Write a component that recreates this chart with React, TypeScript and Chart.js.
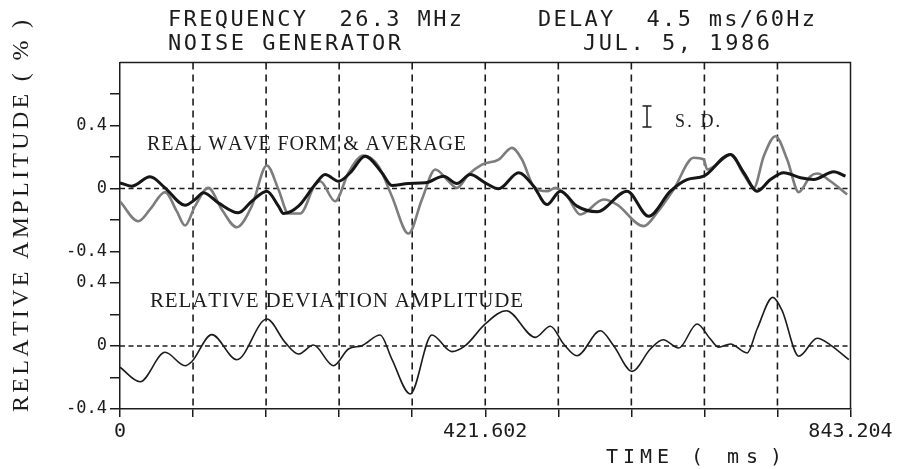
import { useEffect, useRef } from 'react';
import { Chart, registerables } from 'chart.js';

Chart.register(...registerables);

// ---- time axis ----
const TIME_SPAN_MS = 843.204;
const X_TICK_VALUES = [0, 84.3204, 168.6408, 252.9612, 337.2816, 421.602, 505.9224, 590.2428, 674.5632, 758.8836, 843.204];
const X_TICK_LABELS = ['0', '', '', '', '', '421.602', '', '', '', '', '843.204'];

// ---- amplitude ticks for each panel (%) ----
const UPPER_TICKS = [-0.4, -0.2, 0, 0.2, 0.4, 0.6];
const LOWER_TICKS = [-0.4, -0.2, 0, 0.2, 0.4];
const LABELED_TICKS = [-0.4, 0, 0.4];

// ---- average wave form (ms, %) ----
const AVG_T = [0, 13.5, 34.7, 52.0, 75.1, 86.6, 96.2, 113.5, 136.6, 152.1, 169.5, 182.9, 188.6, 206.0, 225.2, 236.8, 252.2, 265.7, 283.0, 302.3, 313.8, 333.0, 352.3, 373.4, 388.9, 404.3, 421.6, 437.0, 460.1, 477.4, 492.9, 508.2, 527.5, 550.6, 585.3, 610.2, 635.3, 654.6, 673.8, 704.6, 720.0, 735.5, 750.8, 766.2, 785.5, 800.8, 823.9, 837.4];
const AVG_V = [0.036, 0.015, 0.074, 0.004, -0.106, -0.070, -0.027, -0.091, -0.154, -0.081, -0.017, -0.112, -0.159, -0.112, 0.025, 0.089, 0.046, 0.100, 0.205, 0.100, 0.019, 0.032, 0.036, 0.078, 0.032, 0.089, 0.036, -0.002, 0.100, 0.015, -0.102, -0.017, -0.112, -0.148, -0.017, -0.176, -0.017, 0.057, 0.078, 0.216, 0.100, -0.017, 0.057, 0.100, 0.068, 0.057, 0.106, 0.078];

// ---- real wave form (ms, %) ----
const REAL_T = [0, 21.1, 34.7, 52.0, 65.5, 75.1, 86.6, 102.0, 117.5, 134.8, 152.1, 169.5, 182.9, 194.4, 207.9, 225.2, 231.0, 248.3, 263.7, 281.0, 298.4, 313.8, 333.0, 348.5, 363.9, 379.2, 388.9, 402.3, 417.8, 437.0, 452.4, 464.0, 477.4, 492.9, 502.5, 516.0, 531.3, 558.3, 573.7, 604.5, 619.9, 639.1, 662.2, 673.8, 677.7, 693.1, 704.6, 720.0, 731.5, 743.1, 756.6, 770.1, 783.5, 797.0, 804.8, 820.1, 839.4];
const REAL_V = [-0.081, -0.208, -0.133, -0.023, -0.144, -0.235, -0.112, 0.004, -0.133, -0.246, -0.112, 0.146, -0.006, -0.159, -0.159, 0.025, 0.046, -0.081, 0.100, 0.210, 0.142, -0.049, -0.286, -0.070, 0.121, 0.046, 0.004, 0.089, 0.152, 0.184, 0.258, 0.184, 0.015, -0.017, 0.004, -0.049, -0.165, -0.070, -0.102, -0.239, -0.154, -0.006, 0.195, 0.184, 0.121, 0.173, 0.216, 0.089, 0.004, 0.205, 0.332, 0.184, -0.023, 0.078, 0.095, 0.046, -0.038];

// ---- relative deviation amplitude (ms, %) ----
const DEV_T = [0, 23.1, 52.0, 75.1, 82.8, 105.9, 134.8, 169.5, 190.6, 206.0, 223.3, 246.4, 263.7, 279.2, 300.3, 313.8, 335.0, 360.0, 383.1, 398.5, 421.6, 445.9, 479.4, 496.7, 512.1, 527.5, 554.4, 569.8, 591.1, 612.2, 626.9, 644.9, 666.1, 681.5, 691.1, 704.6, 723.9, 735.4, 753.5, 764.3, 783.5, 804.8, 820.1, 841.3];
const DEV_V = [-0.135, -0.227, -0.040, -0.125, -0.100, 0.072, -0.087, 0.171, 0.023, -0.051, 0.006, -0.125, -0.019, 0.002, 0.070, -0.083, -0.305, 0.070, -0.036, 0.002, 0.140, 0.224, 0.055, 0.125, 0.013, -0.062, 0.097, 0.002, -0.161, -0.019, 0.040, -0.013, 0.140, 0.044, -0.008, 0.013, -0.044, 0.108, 0.309, 0.224, -0.065, 0.049, 0.006, -0.087];

// Both panels share one vertical axis; each panel's zero sits at its own offset.
const LOWER_ZERO = 0.4;
const UPPER_ZERO = 1.4;
const AXIS_TOP = 2.2;

const INK = '#1c1c1c';
const MONO = '"DejaVu Sans Mono", monospace';
const SERIF = '"Liberation Serif", "DejaVu Serif", serif';

const Y_TICKS = [
  ...LOWER_TICKS.map((v) => ({ value: +(v + LOWER_ZERO).toFixed(3), label: LABELED_TICKS.includes(v) ? String(v) : '' })),
  ...UPPER_TICKS.map((v) => ({ value: +(v + UPPER_ZERO).toFixed(3), label: LABELED_TICKS.includes(v) ? String(v) : '' })),
];

const toPoints = (t: number[], v: number[], zero: number) => t.map((x, i) => ({ x, y: v[i] + zero }));

// Draws text so that its characters are spread evenly between x0 and x1.
function drawSpread(ctx: CanvasRenderingContext2D, text: string, x0: number, x1: number, baseline: number) {
  const chars = [...text];
  const widths = chars.map((c) => ctx.measureText(c).width);
  const total = widths.reduce((a, b) => a + b, 0);
  const gap = chars.length > 1 ? (x1 - x0 - total) / (chars.length - 1) : 0;
  let x = x0;
  ctx.textAlign = 'left';
  ctx.textBaseline = 'alphabetic';
  chars.forEach((c, i) => {
    ctx.fillText(c, x, baseline);
    x += widths[i] + gap;
  });
}

const decorPlugin = {
  id: 'panelDecor',
  beforeDatasetsDraw(chart: any) {
    const { ctx, chartArea: a, scales } = chart;
    ctx.save();
    ctx.strokeStyle = INK;
    ctx.lineWidth = 1.6;
    ctx.setLineDash([7, 5]);
    X_TICK_VALUES.slice(1, -1).forEach((v) => {
      const px = scales.x.getPixelForValue(v);
      ctx.beginPath();
      ctx.moveTo(px, a.top);
      ctx.lineTo(px, a.bottom);
      ctx.stroke();
    });
    ctx.lineWidth = 1.4;
    ctx.setLineDash([5, 3.5]);
    [UPPER_ZERO, LOWER_ZERO].forEach((u) => {
      const py = scales.y.getPixelForValue(u);
      ctx.beginPath();
      ctx.moveTo(a.left, py);
      ctx.lineTo(a.right, py);
      ctx.stroke();
    });
    ctx.restore();
  },
  afterDatasetsDraw(chart: any) {
    const { ctx, chartArea: a } = chart;
    ctx.save();
    ctx.strokeStyle = INK;
    ctx.lineWidth = 1.5;
    ctx.beginPath();
    ctx.moveTo(a.left, a.top);
    ctx.lineTo(a.right, a.top);
    ctx.lineTo(a.right, a.bottom);
    ctx.stroke();
    ctx.restore();
  },
  afterDraw(chart: any) {
    const { ctx } = chart;
    ctx.save();
    ctx.fillStyle = INK;

    // header
    ctx.font = `22px ${MONO}`;
    drawSpread(ctx, 'FREQUENCY  26.3 MHz', 168, 462, 26);
    drawSpread(ctx, 'DELAY  4.5 ms/60Hz', 538, 815, 26);
    drawSpread(ctx, 'NOISE GENERATOR', 168, 401, 50);
    drawSpread(ctx, 'JUL. 5, 1986', 583, 770, 50);

    // axis title (time)
    ctx.font = `20px ${MONO}`;
    drawSpread(ctx, 'TIME', 606, 669, 463);
    ctx.textAlign = 'center';
    ctx.fillText('(', 697, 463);
    drawSpread(ctx, 'ms', 727, 758, 463);
    ctx.textAlign = 'center';
    ctx.fillText(')', 776, 463);

    // axis title (amplitude), rotated
    ctx.save();
    ctx.translate(20, 216);
    ctx.rotate(-Math.PI / 2);
    ctx.font = `24px ${SERIF}`;
    drawSpread(ctx, 'RELATIVE AMPLITUDE ( % )', -196, 196, 8);
    ctx.restore();

    // panel captions
    ctx.font = `20px ${SERIF}`;
    drawSpread(ctx, 'REAL WAVE FORM & AVERAGE', 147, 466, 150);
    ctx.font = `21px ${SERIF}`;
    drawSpread(ctx, 'RELATIVE DEVIATION AMPLITUDE', 150, 523, 307);
    ctx.font = `18px ${SERIF}`;
    drawSpread(ctx, 'S. D.', 675, 720, 127);

    // S.D. bar symbol
    ctx.strokeStyle = INK;
    ctx.lineWidth = 1.5;
    ctx.beginPath();
    ctx.moveTo(647, 106);
    ctx.lineTo(647, 127);
    ctx.moveTo(642.5, 106);
    ctx.lineTo(651.5, 106);
    ctx.moveTo(642.5, 127);
    ctx.lineTo(651.5, 127);
    ctx.stroke();
    ctx.restore();
  },
};

export default function App() {
  const canvasRef = useRef<HTMLCanvasElement | null>(null);

  useEffect(() => {
    const canvas = canvasRef.current;
    if (!canvas) return;
    const chart = new Chart(canvas, {
      type: 'scatter',
      data: {
        datasets: [
          {
            label: 'AVERAGE',
            data: toPoints(AVG_T, AVG_V, UPPER_ZERO),
            showLine: true,
            borderColor: '#161616',
            borderWidth: 3,
            pointRadius: 0,
            cubicInterpolationMode: 'monotone',
          },
          {
            label: 'REAL WAVE FORM',
            data: toPoints(REAL_T, REAL_V, UPPER_ZERO),
            showLine: true,
            borderColor: '#7d7d7d',
            borderWidth: 2.6,
            pointRadius: 0,
            cubicInterpolationMode: 'monotone',
          },
          {
            label: 'RELATIVE DEVIATION AMPLITUDE',
            data: toPoints(DEV_T, DEV_V, LOWER_ZERO),
            showLine: true,
            borderColor: '#1c1c1c',
            borderWidth: 1.6,
            pointRadius: 0,
            cubicInterpolationMode: 'monotone',
          },
        ],
      },
      options: {
        responsive: false,
        animation: false,
        devicePixelRatio: 1,
        events: [],
        layout: { padding: { left: 0, top: 62.5, right: 48.5, bottom: 0 } },
        plugins: { legend: { display: false }, tooltip: { enabled: false } },
        scales: {
          x: {
            type: 'linear',
            min: 0,
            max: TIME_SPAN_MS,
            afterFit: (s: any) => {
              s.height = 60;
            },
            afterBuildTicks: (s: any) => {
              s.ticks = X_TICK_VALUES.map((value) => ({ value }));
            },
            ticks: {
              autoSkip: false,
              maxRotation: 0,
              padding: 3,
              color: INK,
              font: { family: MONO, size: 20 },
              callback: (_v: any, i: number) => X_TICK_LABELS[i],
            },
            grid: { drawOnChartArea: false, drawTicks: true, tickLength: 8, color: INK, lineWidth: 1.5 },
            border: { color: INK, width: 1.5 },
          },
          y: {
            type: 'linear',
            min: 0,
            max: AXIS_TOP,
            afterFit: (s: any) => {
              s.width = 120;
            },
            afterBuildTicks: (s: any) => {
              s.ticks = Y_TICKS.map((t) => ({ value: t.value }));
            },
            ticks: {
              autoSkip: false,
              padding: 3,
              color: INK,
              font: { family: MONO, size: 17 },
              callback: (_v: any, i: number) => Y_TICKS[i].label,
            },
            grid: { drawOnChartArea: false, drawTicks: true, tickLength: 10, color: INK, lineWidth: 1.5 },
            border: { color: INK, width: 1.5 },
          },
        },
      },
      plugins: [decorPlugin],
    });
    return () => chart.destroy();
  }, []);

  return (
    <div style={{ position: 'fixed', left: 0, top: 0, width: 899, height: 469, background: '#fff' }}>
      <canvas ref={canvasRef} width={899} height={469} style={{ display: 'block' }} />
    </div>
  );
}
